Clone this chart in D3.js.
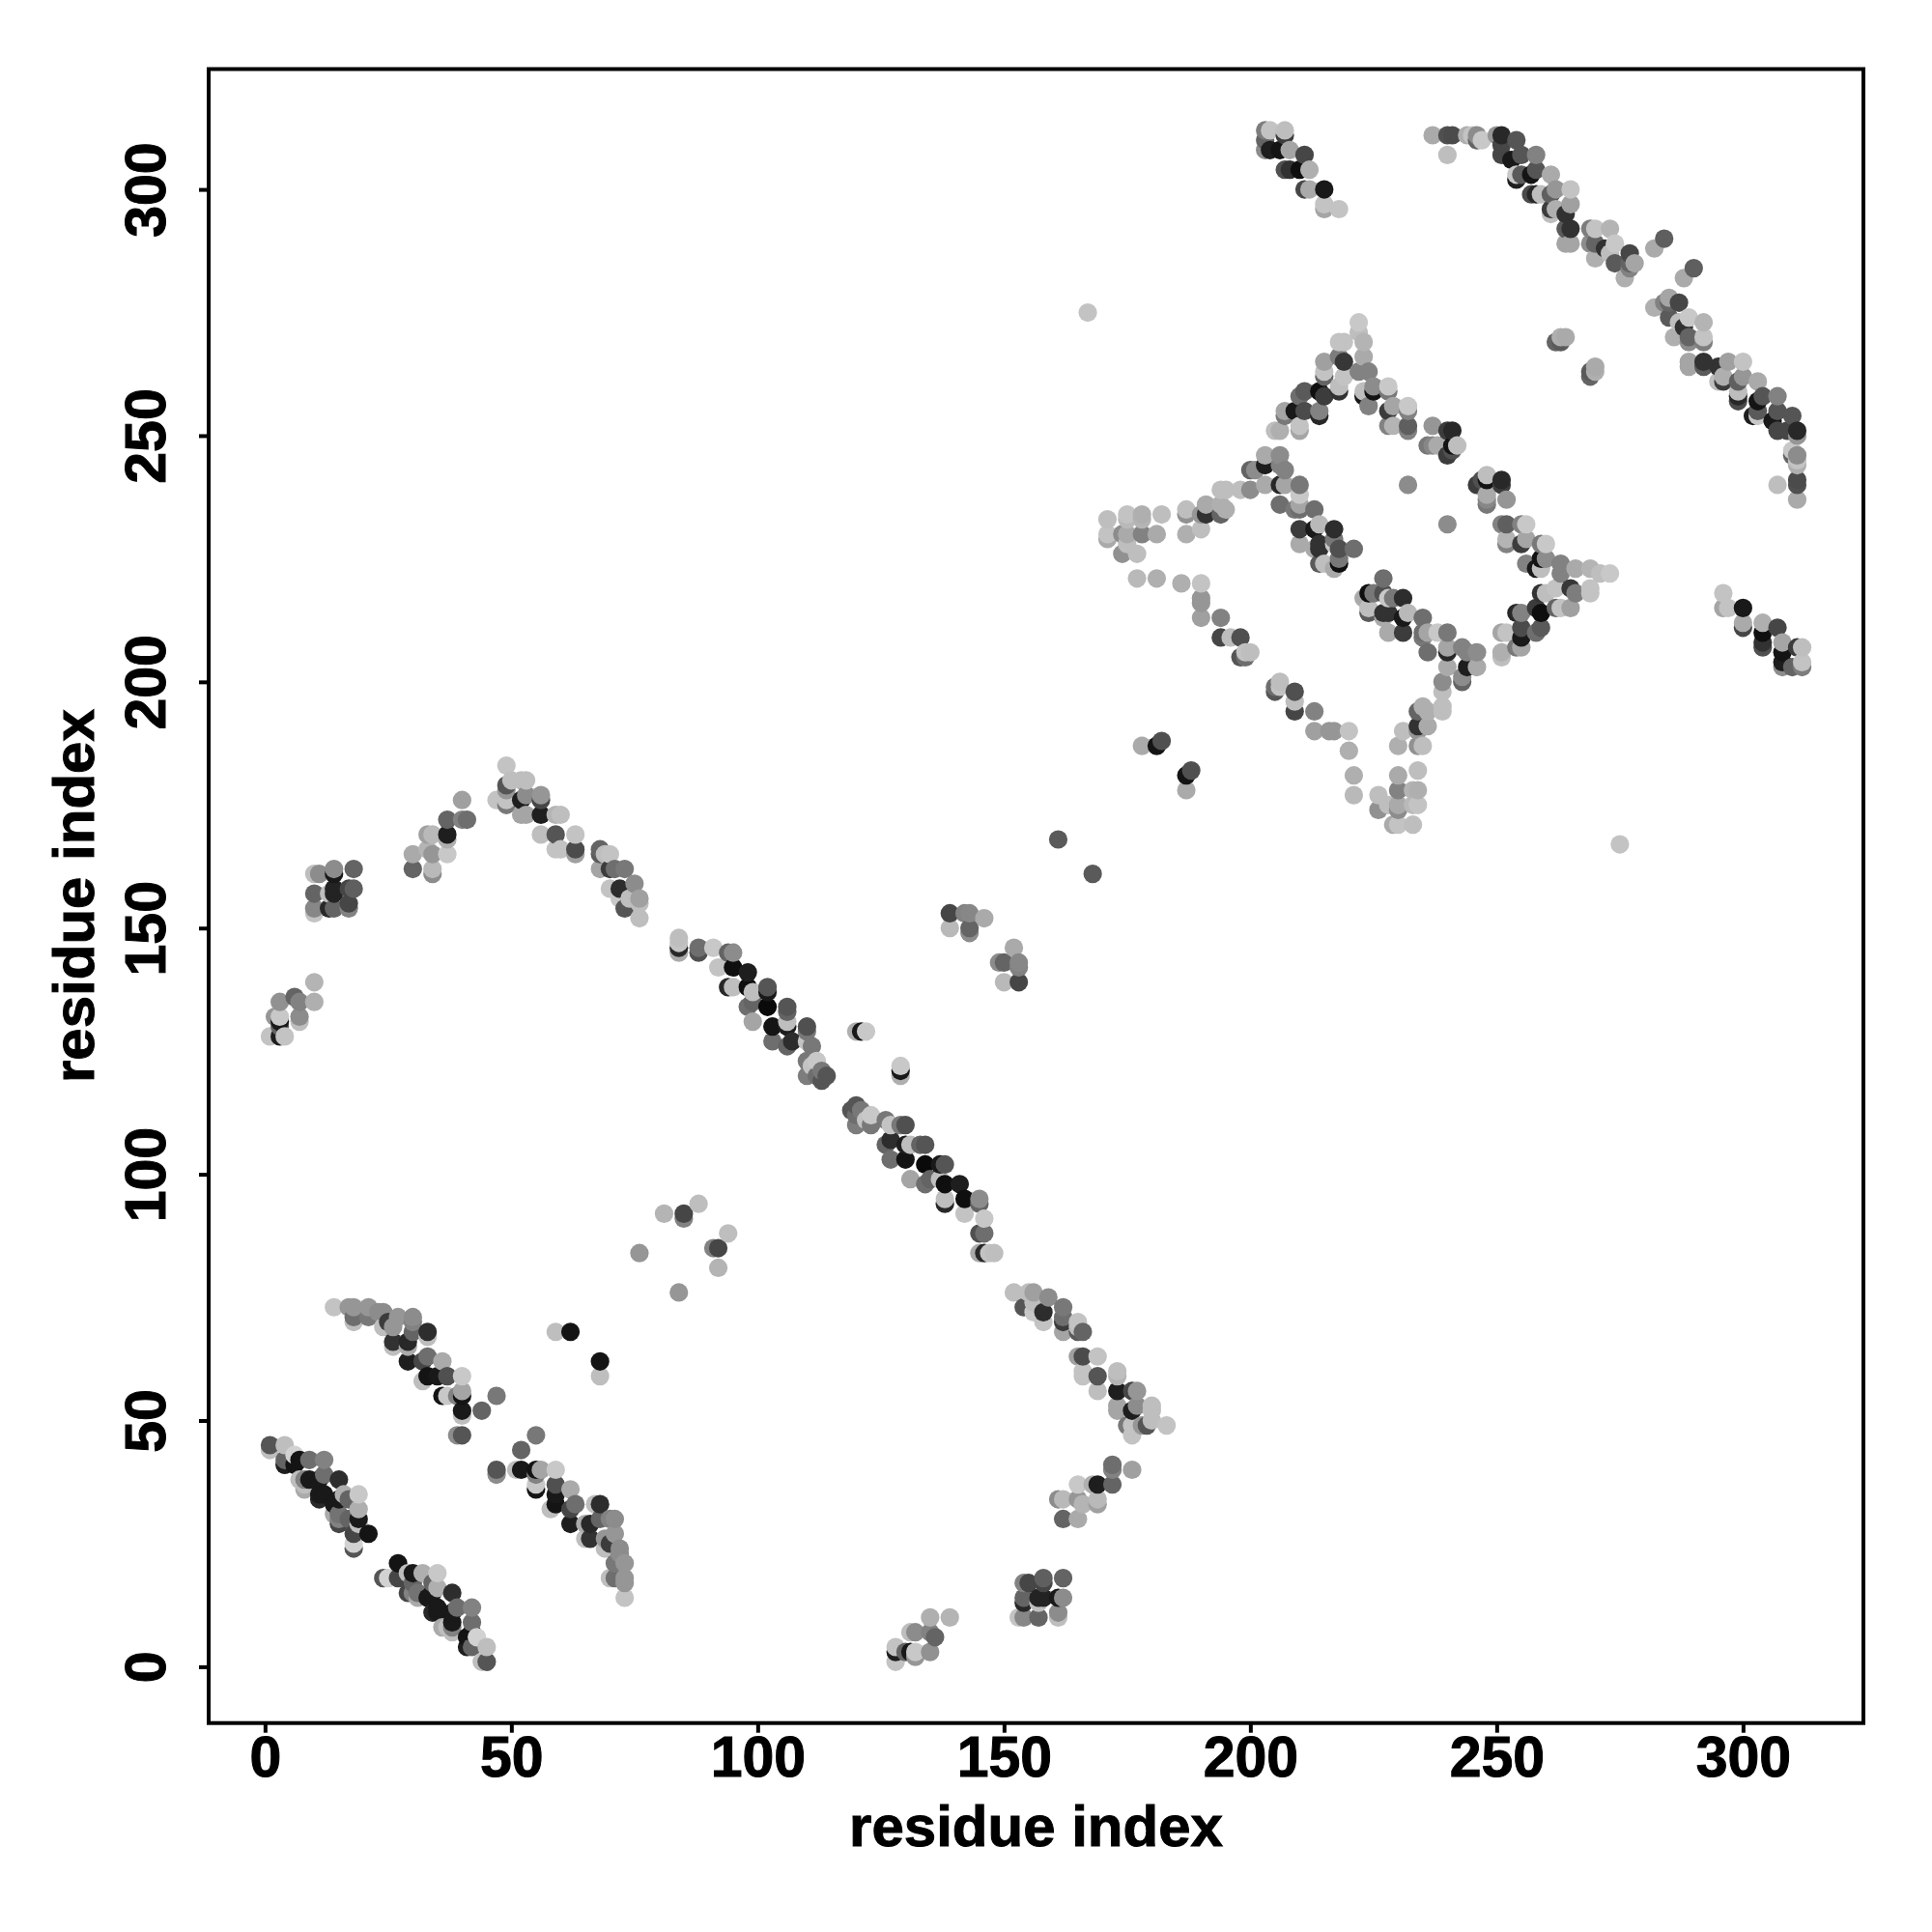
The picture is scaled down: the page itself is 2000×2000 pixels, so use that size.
<!DOCTYPE html>
<html><head><meta charset="utf-8">
<script src="https://cdn.jsdelivr.net/npm/d3@7"></script>
<style>html,body{margin:0;background:#fff}</style></head>
<body><svg id="c" width="2000" height="2000"></svg>
<script>
// Each contact: [residue i, residue j, grey level]. The map is symmetric, each contact is drawn at (i,j) and (j,i).
const sheetA=[[14,73,195],[17,73,150],[18,73,150],[18,71,110],[18,70,190],[21,73,150],[21,71,120],[23,72,140],[24,72,140],[24,69,190],[25,70,60],[27,71,150],[26,69,150],[26,66,50],[26,65,190],[30,71,140],[30,70,130],[30,68,100],[29,66,40],[29,65,170],[33,68,45],[33,67,190],[29,62,30],[33,63,110],[32,62,70],[36,62,170],[33,59,20],[32,58,190],[37,59,80],[35,59,25],[40,59,200],[40,56,165],[40,55,20],[37,55,200],[36,55,20],[39,55,130],[40,52,25],[40,51,190],[44,52,100],[47,55,120],[40,47,85],[39,47,140]];
const sheetB=[[1,45,85],[1,44,190],[4,45,190],[6,43,210],[4,42,100],[4,41,30],[6,41,20],[7,42,20],[9,42,110],[12,42,130],[7,38,190],[8,38,130],[8,37,190],[8,36,170],[9,38,25],[12,39,110],[11,38,25],[11,35,25],[12,35,25],[11,34,40],[15,38,45],[16,35,175],[15,34,25],[14,33,25],[19,35,200],[17,34,100],[19,32,175],[19,30,25],[17,30,100],[15,30,130],[15,31,115],[14,31,170],[15,29,70],[21,27,20],[18,27,70],[19,29,190],[18,24,85],[18,25,210]];
const cornerC=[[10,139,180],[10,135,175],[6,136,100],[7,135,130],[3,135,145],[7,132,140],[7,131,190],[3,132,200],[3,131,25],[2,132,150],[3,130,100],[4,128,195],[1,128,195],[3,128,30]];
const patchD=[[10,161,190],[11,161,140],[14,162,140],[14,161,25],[18,162,100],[10,157,100],[13,157,190],[14,158,35],[14,157,35],[17,158,70],[18,158,95],[10,154,135],[10,153,195],[13,154,40],[14,154,100],[17,155,70],[17,154,130]];
const patchE=[[40,176,160],[37,172,100],[40,172,130],[41,172,110],[37,169,30],[33,169,160],[34,169,185],[37,168,175],[30,165,170],[33,166,180],[34,165,150],[37,165,200],[30,162,100],[34,161,140],[34,162,185]];
const sheetF=[[49,183,195],[49,179,85],[49,178,150],[50,180,190],[53,180,190],[52,180,190],[47,176,195],[49,175,120],[49,176,195],[53,177,140],[56,177,150],[56,176,70],[52,176,30],[52,173,165],[53,173,165],[56,173,30],[59,173,180],[60,173,190],[56,169,190],[59,169,85],[63,169,195],[59,166,195],[60,166,195],[63,166,75],[63,165,160],[68,166,100],[68,165,90],[68,162,165],[70,165,195],[69,165,190],[70,162,60],[71,162,110],[73,162,120],[70,158,195],[72,158,45],[75,159,140],[73,154,85],[74,156,190],[76,156,160],[76,155,190],[76,152,190],[72,156,200]];
const helixG=[[119,113,85],[120,114,85],[121,113,120],[120,112,110],[120,110,125],[123,112,200],[122,111,195],[123,110,120],[126,111,120],[127,110,195],[130,110,80],[129,110,120],[127,107,45],[126,106,100],[130,106,30],[131,106,190],[134,106,85],[133,106,100],[127,103,110],[130,103,20],[134,102,10],[138,102,85],[137,102,25],[131,99,165],[134,98,110],[135,99,100],[138,98,15],[137,99,190],[141,98,30],[138,95,190],[138,94,40],[142,95,15],[145,95,140],[145,94,100],[142,92,195],[146,91,200],[146,88,110],[145,88,80],[145,84,170],[146,84,40],[147,84,195],[148,84,190],[120,129,175],[121,129,25],[122,129,200]];
const lonelyH=[[59,68,190],[62,68,20],[76,84,150],[81,92,180],[85,91,130],[85,92,70],[88,94,190],[139,153,70],[142,153,130],[143,153,135],[146,152,170],[139,150,185],[143,150,100],[143,149,140],[161,168,90],[178,187,170],[181,187,20],[182,188,80],[167,275,195],[232,240,140],[262,269,100],[263,269,90],[263,270,175],[264,270,170],[282,288,170],[284,290,95]];
const clusterI=[[171,233,190],[175,234,195],[178,234,175],[182,234,190],[171,230,195],[171,229,170],[174,230,140],[175,233,185],[175,230,170],[178,230,130],[181,230,170],[175,228,190],[174,226,145],[177,226,190],[178,233,180],[187,235,190],[187,234,145],[191,236,170],[191,234,50],[190,234,150],[194,236,175],[195,235,175],[194,234,100],[187,230,175],[190,231,190]];
const armJ=[[177,221,185],[181,221,175],[186,220,175],[190,220,195],[190,217,150],[190,216,150],[190,213,160],[194,213,130],[194,209,70],[196,209,190],[198,209,80],[198,205,85],[199,205,110],[199,206,195],[200,206,190]];
const bandK=[[194,239,190],[195,239,190],[198,239,190],[200,239,140],[203,240,170],[200,243,100],[201,243,140],[203,244,30],[203,246,170],[206,246,140],[206,244,130],[207,243,130],[206,240,40],[207,240,165],[206,236,110],[210,240,120],[210,238,200],[210,236,165],[210,235,110],[209,235,120],[213,235,110],[210,231,60],[213,231,25],[214,232,185],[217,231,45],[217,229,120],[210,228,170],[214,228,50],[213,227,170],[214,227,50],[217,228,200],[218,227,80],[221,227,110],[214,224,90],[215,224,190],[218,224,15],[217,223,170],[218,225,120]];
const ridgeL=[[251,232,140],[252,232,100],[255,232,130],[256,232,200],[252,229,170],[255,228,60],[256,229,165],[259,228,120],[260,228,200],[256,224,130],[258,223,25],[259,223,190],[259,225,20],[260,225,140],[263,224,130],[263,222,130],[266,223,170],[269,223,180],[271,222,190],[273,222,200],[259,218,50],[260,218,190],[262,219,195],[265,219,55],[266,218,125],[269,219,195],[269,218,195],[263,215,195],[262,215,100],[265,215,160],[255,214,130],[254,214,40],[259,214,15],[258,215,60],[259,211,90],[258,210,110],[255,211,75],[255,209,25],[255,207,165],[254,207,120],[251,210,165],[252,210,195],[251,206,175],[251,205,190]];
const ridgeM=[[237,252,150],[237,248,135],[238,248,170],[240,251,60],[241,251,40],[240,246,60],[241,247,80],[241,248,20],[242,248,190],[236,248,120],[228,252,130],[229,252,180],[232,252,95],[232,251,130]];
const sheetN=[[203,312,125],[203,310,100],[204,312,195],[207,312,190],[207,311,60],[203,308,140],[204,308,30],[206,308,20],[208,308,165],[211,307,70],[207,304,80],[208,304,50],[210,304,15],[212,304,175],[211,300,70],[212,300,170],[215,300,25],[215,296,165],[215,297,195],[218,296,195]];
const sheetO=[[237,311,170],[240,311,80],[241,311,75],[240,307,190],[244,311,175],[245,311,195],[246,311,140],[246,310,100],[247,310,200],[250,311,150],[251,311,40],[251,309,70],[251,307,70],[254,310,85],[253,306,25],[255,307,85],[258,307,130],[254,303,200],[254,302,30],[255,303,90],[257,303,20],[258,304,85],[261,303,170],[257,299,75],[258,299,40],[259,299,190],[261,299,95],[262,300,150],[265,300,195],[261,295,190],[261,296,60],[262,296,175],[265,297,160],[264,295,50],[265,292,50],[264,292,90],[264,289,165],[265,289,165],[269,292,125],[270,292,195],[273,292,180],[269,289,140],[270,289,100],[270,286,175],[272,288,50],[273,287,190],[274,289,200],[274,285,90],[277,287,70],[277,285,100],[278,285,165],[276,282,175],[277,284,130]];
const contactGroups=[sheetA,sheetB,cornerC,patchD,patchE,sheetF,helixG,lonelyH,clusterI,armJ,bandK,ridgeL,ridgeM,sheetN,sheetO];
const tickValues=[0,50,100,150,200,250,300];
const axisTitle="residue index";

const FONT='"Liberation Sans",Arial,sans-serif';
const svg=d3.select("#c");
const L=216,R=1929,T=71.5,B=1783.7;
const dom=[-11.44,324.44];
const x=d3.scaleLinear().domain(dom).range([L,R]);
const y=d3.scaleLinear().domain(dom).range([B,T]);

// expand to both triangles, de-duplicate, draw in residue order
const seen=new Map();
contactGroups.flat().forEach(([i,j,g])=>{
  [[i,j],[j,i]].forEach(([a,b])=>{seen.set(a+"_"+b,{a,b,g});});
});
const pts=Array.from(seen.values()).sort((p,q)=>d3.ascending(p.a,q.a)||d3.ascending(p.b,q.b));
svg.append("g").selectAll("circle").data(pts).join("circle")
  .attr("cx",d=>x(d.a)).attr("cy",d=>y(d.b)).attr("r",9.6)
  .attr("fill",d=>d3.rgb(d.g,d.g,d.g));

const gx=svg.append("g").attr("transform",`translate(0,${B})`)
  .call(d3.axisBottom(x).tickValues(tickValues).tickFormat(d3.format("d")).tickSize(10).tickSizeOuter(0));
const gy=svg.append("g").attr("transform",`translate(${L},0)`)
  .call(d3.axisLeft(y).tickValues(tickValues).tickFormat(d3.format("d")).tickSize(10).tickSizeOuter(0));
[gx,gy].forEach(g=>{
  g.select(".domain").remove();
  g.selectAll("line").attr("stroke","#000").attr("stroke-width",4);
  g.selectAll("text").attr("fill","#000").attr("stroke","#000").attr("stroke-width",1)
    .attr("font-family",FONT).attr("font-weight","bold").attr("font-size",59);
});
gx.selectAll("text").attr("y",55).attr("dy",0).attr("text-anchor","middle");
gy.selectAll("text").attr("x",0).attr("dy",0).attr("y",0).attr("text-anchor","middle")
  .attr("transform",`translate(${171-L},0) rotate(-90)`);

svg.append("rect").attr("x",L).attr("y",T).attr("width",R-L).attr("height",B-T)
  .attr("fill","none").attr("stroke","#000").attr("stroke-width",4);

svg.append("text").text(axisTitle).attr("x",(L+R)/2).attr("y",1911).attr("text-anchor","middle")
  .attr("stroke","#000").attr("stroke-width",1)
  .attr("font-family",FONT).attr("font-weight","bold").attr("font-size",60);
svg.append("text").text(axisTitle).attr("text-anchor","middle")
  .attr("transform",`translate(97,${(T+B)/2}) rotate(-90)`)
  .attr("stroke","#000").attr("stroke-width",1)
  .attr("font-family",FONT).attr("font-weight","bold").attr("font-size",60);
</script></body></html>
